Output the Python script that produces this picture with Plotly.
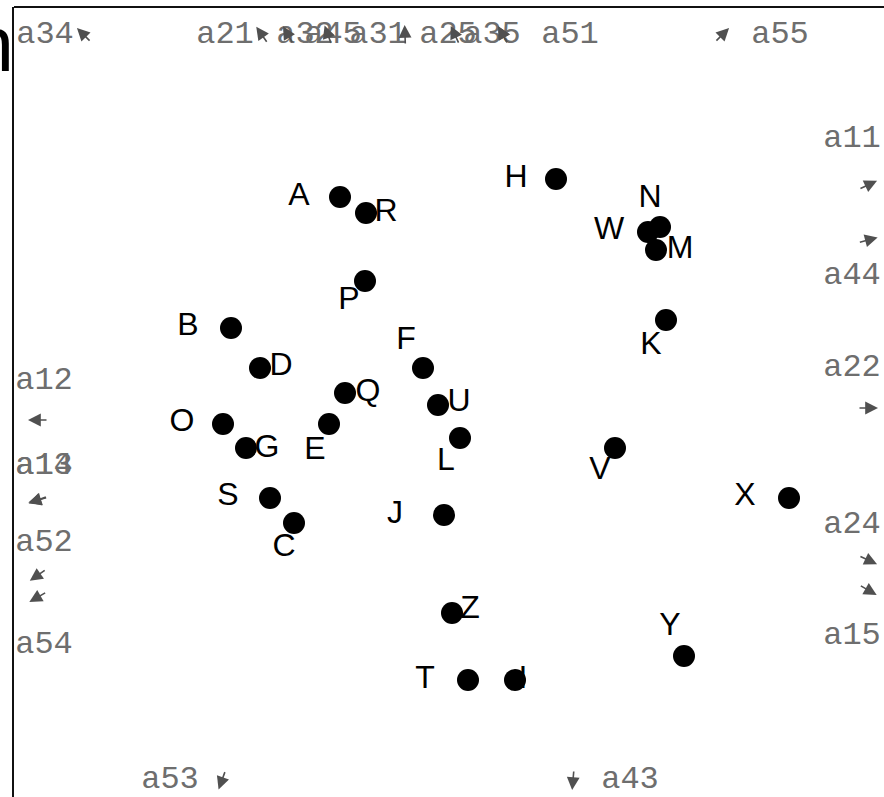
import plotly.graph_objects as go
import math

# ---- site scores (ordination units) ----
site_names = ["A", "R", "H", "N", "W", "M", "P", "B", "K", "D", "F", "Q", "U",
              "O", "E", "G", "L", "V", "X", "S", "J", "C", "Z", "Y", "T", "I"]
site_x = [-1.10, -0.84, 1.06, 2.10, 1.98, 2.06, -0.85, -2.19, 2.16, -1.90, -0.27, -1.05, -0.12,
          -2.27, -1.21, -2.04, 0.10, 1.65, 3.39, -1.80, -0.06, -1.56, 0.02, 2.34, 0.18, 0.65]
site_y = [2.03, 1.87, 2.21, 1.73, 1.68, 1.50, 1.19, 0.72, 0.80, 0.32, 0.32, 0.07, -0.05,
          -0.24, -0.24, -0.48, -0.38, -0.48, -0.98, -0.98, -1.15, -1.23, -2.13, -2.56, -2.80, -2.80]
# label positions
label_x = [-1.51, -0.64, 0.66, 2.00, 1.59, 2.30, -1.01, -2.62, 2.01, -1.69, -0.44, -0.82, 0.09,
           -2.68, -1.35, -1.83, -0.04, 1.50, 2.95, -2.22, -0.55, -1.66, 0.20, 2.20, -0.25, 0.73]
label_y = [2.03, 1.87, 2.21, 2.01, 1.69, 1.50, 0.99, 0.73, 0.54, 0.33, 0.59, 0.07, -0.03,
           -0.23, -0.51, -0.49, -0.62, -0.71, -0.97, -0.97, -1.15, -1.48, -2.10, -2.27, -2.80, -2.80]

# ---- species (off-plot vectors shown at the margin) ----
var_names = ["a34", "a21", "a32", "a45", "a31", "a25", "a35", "a51", "a55",
             "a11", "a44", "a22", "a24", "a15",
             "a12", "a14", "a13", "a52", "a54",
             "a53", "a43"]
var_label_x = [-4.05, -2.25, -1.45, -1.17, -0.72, -0.02, 0.42, 1.20, 3.30,
               4.02, 4.02, 4.02, 4.02, 4.02,
               -4.06, -4.06, -4.06, -4.06, -4.06,
               -2.80, 1.80]
var_label_y = [3.65, 3.65, 3.65, 3.65, 3.65, 3.65, 3.65, 3.65, 3.65,
               2.61, 1.24, 0.32, -1.25, -2.36,
               0.19, -0.66, -0.66, -1.43, -2.45,
               -3.80, -3.80]
var_arrow_x = [-3.66, -1.88, -1.62, -1.22, -0.45, 0.05, 0.53, 0.53, 2.72,
               4.18, 4.18, 4.18, 4.18, 4.18,
               -4.12, -4.12, -4.12, -4.12, -4.12,
               -2.28, 1.23]
var_arrow_y = [3.65, 3.65, 3.65, 3.65, 3.65, 3.65, 3.65, 3.65, 3.65,
               2.15, 1.60, -0.08, -1.60, -1.90,
               -0.20, -1.00, -1.00, -1.75, -1.97,
               -3.80, -3.80]
var_angle = [135, 125, 120, 110, 92, 115, 120, 118, 45,
             25, 15, 0, -25, -30,
             180, 200, 195, 215, 210,
             250, 265]

fig = go.Figure()

fig.add_trace(go.Scatter(
    x=site_x, y=site_y, mode="markers",
    marker=dict(size=22, color="black"),
    hoverinfo="skip", showlegend=False, cliponaxis=False))

fig.add_trace(go.Scatter(
    x=label_x, y=label_y, mode="text", text=site_names,
    textposition="middle center",
    textfont=dict(family="Liberation Sans", size=32, color="black"),
    hoverinfo="skip", showlegend=False, cliponaxis=False))

fig.add_trace(go.Scatter(
    x=var_label_x, y=var_label_y, mode="text", text=var_names,
    textposition="middle center",
    textfont=dict(family="Liberation Mono", size=32, color="#6e6e6e"),
    hoverinfo="skip", showlegend=False, cliponaxis=False))

L = 20
for ax_, ay_, ang in zip(var_arrow_x, var_arrow_y, var_angle):
    dx = math.cos(math.radians(ang))
    dy = math.sin(math.radians(ang))
    tipx = ax_ + dx * L / 2 / 100
    tipy = ay_ + dy * L / 2 / 100
    fig.add_annotation(x=tipx, y=tipy, xref="x", yref="y",
                       ax=-dx * L, ay=dy * L, axref="pixel", ayref="pixel",
                       showarrow=True, arrowhead=2, arrowsize=1.6, arrowwidth=1.6,
                       arrowcolor="#505050", text="")

fig.add_annotation(text="Ordination", xref="paper", yref="paper",
                   x=0.0025, y=0.953, xanchor="right", yanchor="middle",
                   showarrow=False,
                   font=dict(family="Liberation Sans", size=78, color="black"))

# frame: top and left edges only
fig.add_shape(type="line", xref="paper", yref="paper", x0=0, x1=1.02, y0=1, y1=1,
              line=dict(color="#111", width=2))

fig.update_xaxes(range=[-4.36, 4.34], showline=False,
                 showgrid=False, zeroline=False, showticklabels=False, ticks="")
fig.update_yaxes(range=[-3.97, 3.93], showline=True, linecolor="#111", linewidth=2,
                 showgrid=False, zeroline=False, showticklabels=False,
                 ticks="", mirror=False)

fig.update_layout(width=884, height=797,
                  margin=dict(l=14, r=0, t=7, b=0, pad=0),
                  plot_bgcolor="white", paper_bgcolor="white")

fig.write_html("out.html", config={"displayModeBar": False},
               post_script="document.body.style.margin='0';")
